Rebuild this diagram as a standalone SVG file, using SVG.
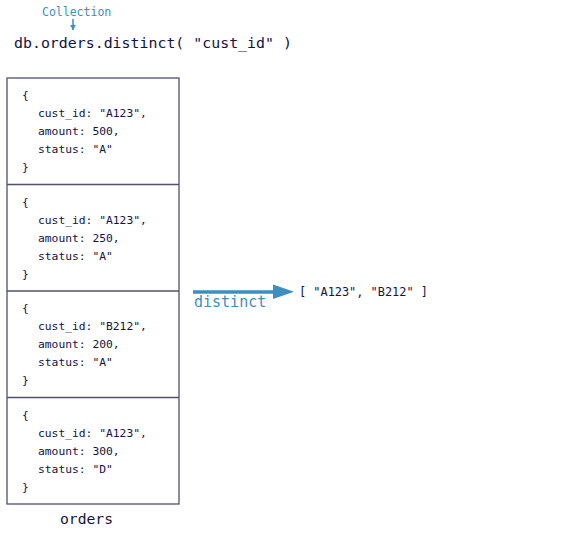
<svg xmlns="http://www.w3.org/2000/svg" width="564" height="533" viewBox="0 0 564 533">
<style>
.m{font-family:"DejaVu Sans Mono","Liberation Mono",monospace;fill:#13133f}
.b{font-size:11.3px}
.blue{fill:#3b8fc1}
.box{fill:#fff;stroke:#50506e;stroke-width:1.3}
</style>
<defs>
<marker id="sh" viewBox="0 0 10 10" refX="9" refY="5" markerWidth="4" markerHeight="6" markerUnits="strokeWidth" orient="auto"><path d="M0,0L10,5L0,10z" fill="#3b8fc1"/></marker>
</defs>
<rect width="564" height="533" fill="#fff"/>
<g id="title">
<text class="m blue" x="42" y="16" font-size="11.5">Collection</text>
<text class="m" x="14" y="48" font-size="14.9">db.orders.distinct( "cust_id" )</text>
</g>
<g id="collection">
<rect class="box" x="7" y="78" width="172" height="426"/>
<line class="box" x1="7" y1="184.5" x2="179" y2="184.5"/>
<line class="box" x1="7" y1="291" x2="179" y2="291"/>
<line class="box" x1="7" y1="397.5" x2="179" y2="397.5"/>
</g>
<g id="doc1" class="m b">
<text x="22" y="99">{</text>
<text x="38" y="117">cust_id: "A123",</text>
<text x="38" y="135">amount: 500,</text>
<text x="38" y="153">status: "A"</text>
<text x="22" y="171">}</text>
</g>
<g id="doc2" class="m b">
<text x="22" y="205.5">{</text>
<text x="38" y="223.5">cust_id: "A123",</text>
<text x="38" y="241.5">amount: 250,</text>
<text x="38" y="259.5">status: "A"</text>
<text x="22" y="277.5">}</text>
</g>
<g id="doc3" class="m b">
<text x="22" y="312">{</text>
<text x="38" y="330">cust_id: "B212",</text>
<text x="38" y="348">amount: 200,</text>
<text x="38" y="366">status: "A"</text>
<text x="22" y="384">}</text>
</g>
<g id="doc4" class="m b">
<text x="22" y="418.5">{</text>
<text x="38" y="436.5">cust_id: "A123",</text>
<text x="38" y="454.5">amount: 300,</text>
<text x="38" y="472.5">status: "D"</text>
<text x="22" y="490.5">}</text>
</g>
<g id="label-orders">
<text class="m" x="60" y="524" font-size="14.7">orders</text>
</g>
<g id="result">
<text class="m" x="299" y="296" font-size="11.9">[ "A123", "B212" ]</text>
</g>
<g id="connectors">
<line x1="73" y1="19" x2="73" y2="30" stroke="#3b8fc1" stroke-width="1.5" marker-end="url(#sh)"/>
<line x1="193" y1="292" x2="276" y2="292" stroke="#3b8fc1" stroke-width="3.4"/>
<path d="M273,284.5L294,291.8L273,299z" fill="#3b8fc1"/>
<text class="m blue" x="194" y="307" font-size="15">distinct</text>
</g>
</svg>
